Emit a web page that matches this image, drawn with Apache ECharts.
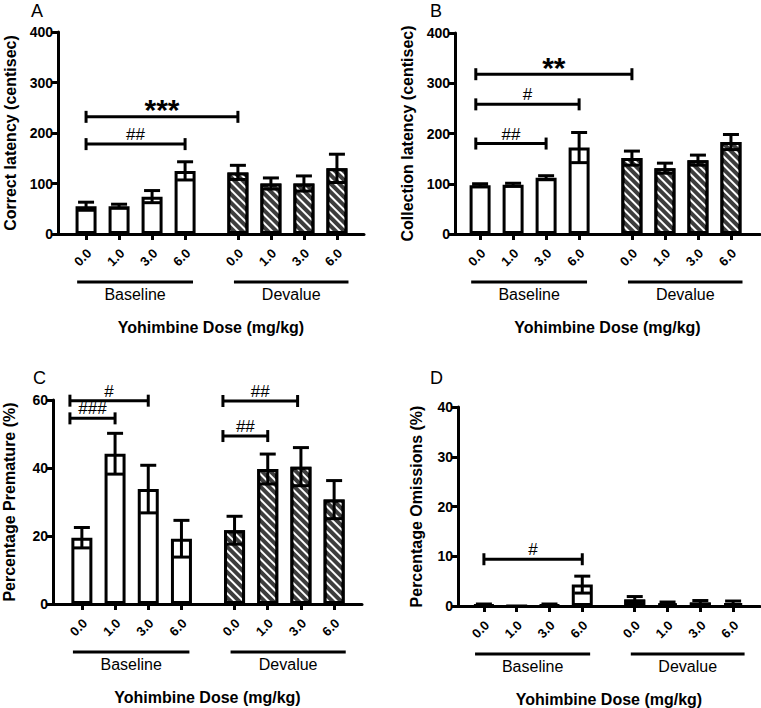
<!DOCTYPE html>
<html><head><meta charset="utf-8">
<script src="https://cdn.jsdelivr.net/npm/echarts@6/dist/echarts.min.js"></script>
<style>html,body{margin:0;padding:0;background:#fff}#c{width:761px;height:708px}</style>
</head><body><div id="c"></div>
<script>
// ---- data ----
const doseLabels = ['0.0','1.0','3.0','6.0','0.0','1.0','3.0','6.0'];
const doseXPos   = [0, 1, 2, 3, 4.6, 5.6, 6.6, 7.6];
const groupNames = ['Baseline', 'Devalue'];
const groupSpans = [[-0.27, 3.24], [4.48, 7.95]];

const correctMean = [55, 55, 74, 125, 122, 100, 100, 130];
const correctSem  = [8, 4, 12, 18, 14, 11, 15, 28];
const correctBrackets = [[0, 3, 178, '##'], [0, 4.6, 232, '***']];

const collectionMean = [97, 98, 112, 172, 151, 131, 147, 183];
const collectionSem  = [3, 3, 4, 30, 14, 10, 10, 15];
const collectionBrackets = [[-0.13, 2, 180, '##'], [-0.13, 3, 258, '#'], [-0.13, 4.6, 318, '**']];

const prematureMean = [19.5, 44.2, 33.8, 19.2, 21.7, 39.7, 40.4, 30.7];
const prematureSem  = [3, 6, 7, 5.4, 4.1, 4.4, 5.6, 5.6];
const prematureBrackets = [[-0.36, 1, 54.6, '###'], [-0.36, 2, 59.8, '#'], [4.25, 5.6, 49.4, '##'], [4.25, 6.5, 59.7, '##']];

const omissionMean = [0.2, 0, 0.2, 4.3, 1.3, 0.5, 0.7, 0.6];
const omissionSem  = [0.2, 0, 0.2, 1.7, 0.6, 0.3, 0.4, 0.4];
const omissionBrackets = [[0, 3, 9.4, '#']];

const xAxisTitle = 'Yohimbine Dose (mg/kg)';

// ---- layout ----
const FF = 'Liberation Sans, Arial, Helvetica, sans-serif';
const panels = [
  {letter:'A', yName:'Correct latency (centisec)', mean:correctMean, sem:correctSem, brackets:correctBrackets,
   yMax:400, yInt:100, grid:{left:58, top:32, width:306, height:202}, xMin:-0.85, xMax:8.42, nameGap:40, lpos:[31,2]},
  {letter:'B', yName:'Collection latency (centisec)', mean:collectionMean, sem:collectionSem, brackets:collectionBrackets,
   yMax:400, yInt:100, grid:{left:455, top:33, width:305, height:201}, xMin:-0.76, xMax:8.48, nameGap:40, lpos:[430,2]},
  {letter:'C', yName:'Percentage Premature (%)', mean:prematureMean, sem:prematureSem, brackets:prematureBrackets,
   yMax:60, yInt:20, grid:{left:53, top:400, width:309, height:204}, xMin:-0.87, xMax:8.44, nameGap:36, lpos:[33,369]},
  {letter:'D', yName:'Percentage Omissions (%)', mean:omissionMean, sem:omissionSem, brackets:omissionBrackets,
   yMax:40, yInt:10, grid:{left:458, top:407, width:302, height:199}, xMin:-0.79, xMax:8.42, nameGap:34, lpos:[430,369]}
];

const grids = [], xAxes = [], yAxes = [], series = [], titles = [];
panels.forEach((p, i) => {
  grids.push(Object.assign({outerBoundsMode:'none', containLabel:false}, p.grid));
  titles.push({text:p.letter, left:p.lpos[0], top:p.lpos[1], padding:0,
    textStyle:{fontSize:18, fontWeight:'normal', color:'#000', fontFamily:FF}});
  xAxes.push({
    gridIndex:i, type:'value', min:p.xMin, max:p.xMax,
    name:xAxisTitle, nameLocation:'middle', nameGap:85,
    nameTextStyle:{fontSize:16, fontWeight:'bold', color:'#000', fontFamily:FF},
    axisLine:{show:true, onZero:false, lineStyle:{color:'#000', width:3}},
    axisTick:{show:true, length:6, lineStyle:{color:'#000', width:3}, customValues:doseXPos},
    axisLabel:{show:false},
    splitLine:{show:false}
  });
  yAxes.push({
    gridIndex:i, type:'value', min:0, max:p.yMax, interval:p.yInt,
    name:p.yName, nameLocation:'middle', nameGap:p.nameGap, nameRotate:90,
    nameTextStyle:{fontSize:16, fontWeight:'bold', color:'#000', fontFamily:FF},
    axisLine:{show:true, onZero:false, lineStyle:{color:'#000', width:3}},
    axisTick:{show:true, length:6, lineStyle:{color:'#000', width:3}},
    axisLabel:{fontSize:14, fontWeight:'bold', color:'#000', fontFamily:FF, margin:5},
    splitLine:{show:false}
  });
  const base = [], dev = [], errs = [], ticks = [];
  for (let k = 0; k < 8; k++) {
    const pt = [doseXPos[k], p.mean[k]];
    (k < 4 ? base : dev).push(pt);
    errs.push([doseXPos[k], p.mean[k], p.sem[k]]);
    ticks.push([doseXPos[k], 0]);
  }
  series.push({
    type:'bar', xAxisIndex:i, yAxisIndex:i, data:base, barWidth:21, barGap:'-100%', z:2,
    itemStyle:{color:'#fff', borderColor:'#000', borderWidth:3}, silent:true
  });
  series.push({
    type:'bar', xAxisIndex:i, yAxisIndex:i, data:dev, barWidth:21, barGap:'-100%', z:2,
    itemStyle:{color:'#3d3d3d', borderColor:'#000', borderWidth:3,
      decal:{symbol:'rect', color:'#fff', dashArrayX:[1,0], dashArrayY:[1.6,3.4], rotation:Math.PI/4, symbolSize:1}},
    silent:true
  });
  // error bars
  series.push({
    type:'custom', xAxisIndex:i, yAxisIndex:i, data:errs, z:5, clip:false, silent:true,
    encode:{x:0, y:1},
    renderItem:function(params, api){
      const x = api.value(0), m = api.value(1), e = api.value(2);
      if (!(e > 0)) return null;
      const t = api.coord([x, m + e]), b = api.coord([x, Math.max(0, m - e)]);
      const hw = 8, st = {stroke:'#000', lineWidth:3};
      return {type:'group', children:[
        {type:'line', shape:{x1:t[0], y1:t[1], x2:b[0], y2:b[1]}, style:st},
        {type:'line', shape:{x1:t[0]-hw, y1:t[1], x2:t[0]+hw, y2:t[1]}, style:st},
        {type:'line', shape:{x1:b[0]-hw, y1:b[1], x2:b[0]+hw, y2:b[1]}, style:st}
      ]};
    }
  });
  // rotated dose tick labels
  series.push({
    type:'custom', xAxisIndex:i, yAxisIndex:i, data:ticks, z:6, clip:false, silent:true,
    encode:{x:0, y:1},
    renderItem:function(params, api){
      const c = api.coord([api.value(0), 0]);
      return {type:'text', x:c[0] + 3, y:c[1] + 17, rotation:Math.PI/4,
        style:{text:doseLabels[params.dataIndex], align:'right', verticalAlign:'middle',
          font:'bold 13px ' + FF, fill:'#000'}};
    }
  });
  // significance brackets
  const br = p.brackets;
  series.push({
    type:'custom', xAxisIndex:i, yAxisIndex:i, data:br.map(b => [b[0], b[1], b[2]]), z:6, clip:false, silent:true,
    encode:{x:[0,1], y:2},
    renderItem:function(params, api){
      const b = br[params.dataIndex];
      const p1 = api.coord([b[0], b[2]]), p2 = api.coord([b[1], b[2]]);
      const y = p1[1], st = {stroke:'#000', lineWidth:3};
      const star = b[3].indexOf('*') >= 0;
      return {type:'group', children:[
        {type:'line', shape:{x1:p1[0], y1:y, x2:p2[0], y2:y}, style:st},
        {type:'line', shape:{x1:p1[0], y1:y-6, x2:p1[0], y2:y+6}, style:st},
        {type:'line', shape:{x1:p2[0], y1:y-6, x2:p2[0], y2:y+6}, style:st},
        {type:'text', style:{text:b[3], x:(p1[0]+p2[0])/2, y: star ? y + 8 : y - 1,
          align:'center', verticalAlign:'bottom',
          font: star ? ('bold 30px ' + FF) : ('17px ' + FF), fill:'#000'}}
      ]};
    }
  });
  // group lines + labels
  series.push({
    type:'custom', xAxisIndex:i, yAxisIndex:i, data:groupSpans.map(g => [g[0], g[1], 0]), z:6, clip:false, silent:true,
    encode:{x:[0,1], y:2},
    renderItem:function(params, api){
      const g = groupSpans[params.dataIndex];
      const p1 = api.coord([g[0], 0]), p2 = api.coord([g[1], 0]);
      const y = p1[1];
      return {type:'group', children:[
        {type:'line', shape:{x1:p1[0], y1:y+48, x2:p2[0], y2:y+48}, style:{stroke:'#000', lineWidth:3}},
        {type:'text', style:{text:groupNames[params.dataIndex], x:(p1[0]+p2[0])/2, y:y+60,
          align:'center', verticalAlign:'middle', font:'16px ' + FF, fill:'#000'}}
      ]};
    }
  });
});

const chart = echarts.init(document.getElementById('c'), null, {renderer:'svg'});
chart.setOption({
  animation:false,
  backgroundColor:'#fff',
  title:titles,
  grid:grids,
  xAxis:xAxes,
  yAxis:yAxes,
  series:series
});
</script>
</body></html>
